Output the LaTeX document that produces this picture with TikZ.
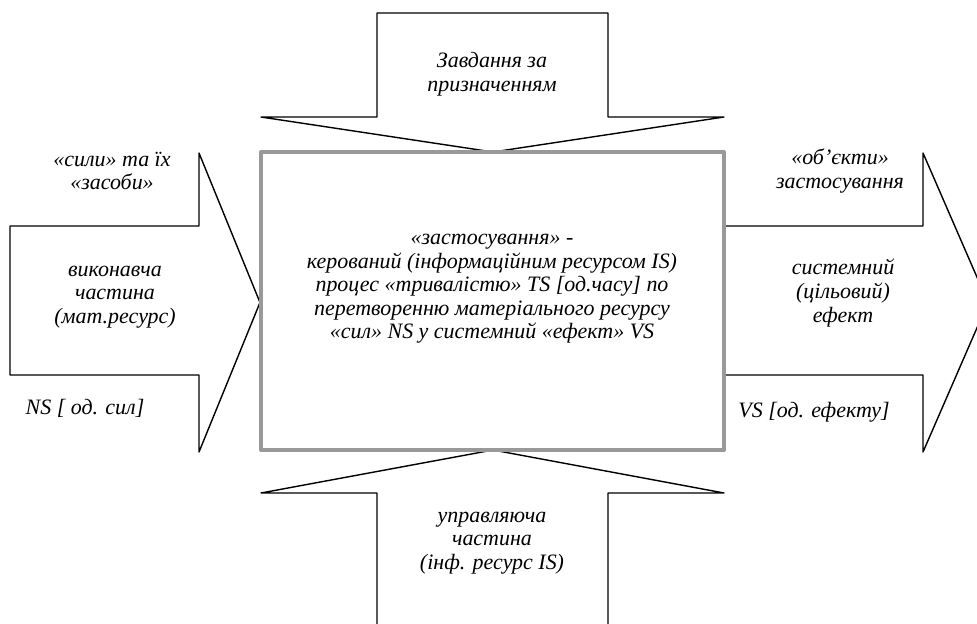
\documentclass[tikz,border=0pt]{standalone}
\usepackage{fontspec}
\setmainfont{Liberation Serif}
\usetikzlibrary{calc}
\usepackage{tkz-euclide}
\definecolor{FrameClr}{rgb}{0.6,0.6,0.6}

\begin{document}
\begin{tikzpicture}[
  txt/.style={align=center,inner sep=0pt,font=\fontsize{12.5}{13.4}\selectfont\itshape}]
\clip (0,0) rectangle (19.54,12.46);
\tkzSetUpLine[line width=0.8pt,color=black]

% top arrow
\tkzDefPoints{7.54/12.2/T1,12.16/12.2/T2,12.16/10.12/T3,14.48/10.12/T4,
  9.86/9.42/T5,5.22/10.12/T6,7.54/10.12/T7}
% left arrow
\tkzDefPoints{0.2/7.94/L1,3.98/7.94/L2,3.98/9.4/L3,5.2/6.41/L4,
  3.98/3.42/L5,3.98/4.96/L6,0.2/4.96/L7}
% right arrow
\tkzDefPoints{14.48/7.94/R1,18.46/7.94/R2,18.46/9.4/R3,19.76/6.41/R4,
  18.46/3.42/R5,18.46/4.96/R6,14.48/4.96/R7}
% bottom arrow (its foot runs off the page)
\tkzDefPoints{7.54/-0.2/B1,7.54/2.6/B2,5.22/2.6/B3,9.86/3.46/B4,
  14.48/2.6/B5,12.16/2.6/B6,12.16/-0.2/B7}
% centre box
\tkzDefPoints{5.22/3.46/C1,14.48/3.46/C2,14.48/9.42/C3,5.22/9.42/C4}

\tkzDrawPolygon(T1,T2,T3,T4,T5,T6,T7)
\tkzDrawPolygon(L1,L2,L3,L4,L5,L6,L7)
\tkzDrawPolygon(R1,R2,R3,R4,R5,R6,R7)
\tkzDrawPolygon(B1,B2,B3,B4,B5,B6,B7)

\tkzFillPolygon[fill=white](C1,C2,C3,C4)
\tkzDrawPolygon[color=FrameClr,line width=2.3pt](C1,C2,C3,C4)

\node[txt] (task) at (9.84,10.98) {Завдання за\\призначенням};
\node[txt] (forces) at (2.24,9.04) {«сили» та їх\\«засоби»};
\node[txt] (exec) at (2.3,6.52) {виконавча\\частина\\(мат.ресурс)};
\node[txt] (ns) at (1.7,4.3) {NS [ од. сил]};
\node[txt] (objects) at (16.8,9.04) {«об’єкти»\\застосування};
\node[txt] (effect) at (16.86,6.6) {системний\\(цільовий)\\ефект};
\node[txt] (vs) at (16.28,4.22) {VS [од. ефекту]};
\node[txt] (ctrl) at (9.84,1.6) {управляюча\\частина\\(інф. ресурс IS)};
\node[txt] (apply) at (9.84,6.68) {«застосування» -\\керований (інформаційним ресурсом IS)\\процес «тривалістю» TS [од.часу] по\\перетворенню матеріального ресурсу\\«сил» NS у системний «ефект» VS};

\end{tikzpicture}
\end{document}
